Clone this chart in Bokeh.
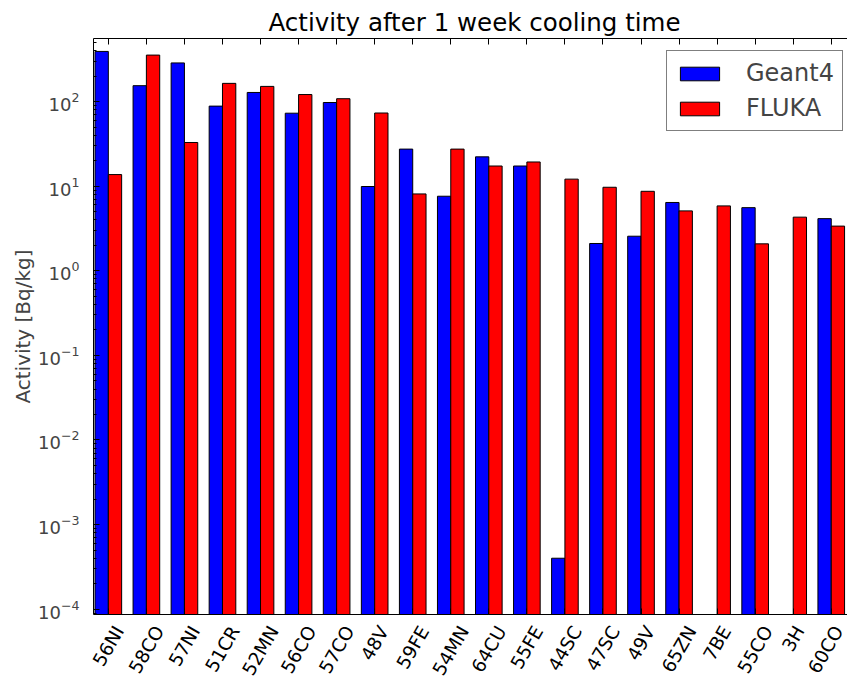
import math
from bokeh.plotting import figure
from bokeh.models import (LinearAxis, FixedTicker, Range1d, Legend, LegendItem,
                          ColumnDataSource)
from bokeh.embed import file_html
from bokeh.resources import INLINE

isotopes = ["56NI", "58CO", "57NI", "51CR", "52MN", "56CO", "57CO", "48V", "59FE", "54MN",
            "64CU", "55FE", "44SC", "47SC", "49V", "65ZN", "7BE", "55CO", "3H", "60CO"]
geant4 = [391, 154, 286, 88.3, 128, 72.8, 97.4, 9.9, 27.4, 7.6,
          22.2, 17.3, 4.0e-4, 2.1, 2.56, 6.41, 0, 5.57, 0, 4.13]
fluka = [13.7, 354, 32.8, 164, 151, 121, 108, 73.2, 8.09, 27.4,
         17.3, 19.3, 12.1, 9.7, 8.69, 5.1, 5.84, 2.08, 4.3, 3.37]
y_major = [1e-4, 1e-3, 1e-2, 1e-1, 1e0, 1e1, 1e2]

W = 0.35
FONT = "DejaVu Sans"
XFS = 18.5        # x tick label font size (px)
ANG = math.pi / 3
X0, X1 = -0.04, 19.777
FRAME_W = 847 - 93

# approximate DejaVu Sans advance widths (em), used to centre the rotated labels on the ticks
ADV = {"0": .636, "1": .636, "2": .636, "3": .636, "4": .636, "5": .636, "6": .636,
       "7": .636, "8": .636, "9": .636, "B": .686, "C": .698, "E": .632, "F": .575,
       "H": .752, "I": .295, "M": .863, "N": .748, "O": .787, "R": .695, "S": .635,
       "U": .732, "V": .684, "Z": .685}

g_idx = [i for i, v in enumerate(geant4) if v > 0]
f_idx = [i for i, v in enumerate(fluka) if v > 0]
src_g = ColumnDataSource(dict(x=[i + W / 2 for i in g_idx], top=[geant4[i] for i in g_idx]))
src_f = ColumnDataSource(dict(x=[i + 1.5 * W for i in f_idx], top=[fluka[i] for i in f_idx]))

p = figure(width=847, height=687, output_backend="svg", toolbar_location=None,
           y_axis_type="log", x_range=Range1d(X0, X1),
           y_range=Range1d(8.65e-5, 556),
           min_border_left=93, min_border_right=0, min_border_top=38, min_border_bottom=59)

p.title.text = "Activity after 1 week cooling time"
p.title.align = "left"
p.title.offset = 175
p.title.text_font = FONT
p.title.text_font_size = "24.5px"
p.title.text_font_style = "normal"
p.title.text_color = "black"
p.title.standoff = 4

p.xgrid.visible = False
p.ygrid.visible = False
p.outline_line_color = None
p.background_fill_color = "white"
p.border_fill_color = "white"

rb = p.vbar(x="x", top="top", bottom=1e-6, width=W, source=src_g,
            fill_color="#0000ff", line_color="black", line_width=1)
rr = p.vbar(x="x", top="top", bottom=1e-6, width=W, source=src_f,
            fill_color="#ff0000", line_color="black", line_width=1)

# x axis: tick marks on the group centres
xt = [i + W for i in range(len(isotopes))]
xa = p.xaxis[0]
xa.ticker = FixedTicker(ticks=xt)
xa.major_label_overrides = {t: "" for t in xt}
xa.major_label_text_font_size = "0px"
xa.major_label_standoff = 0
xa.major_tick_in = 6
xa.major_tick_out = 0
xa.minor_tick_line_color = None
xa.axis_line_color = "black"
xa.axis_line_width = 1

# second bottom axis carrying the rotated names, shifted so each label is centred on its tick
px_per_unit = FRAME_W / (X1 - X0)
def shifted(t, name):
    w = sum(ADV.get(c, .65) for c in name) * XFS
    return round(t + 0.25 * w / px_per_unit, 4)

lt = [shifted(t, n) for t, n in zip(xt, isotopes)]
lab_axis = LinearAxis(ticker=FixedTicker(ticks=lt),
                      major_label_overrides={t: n for t, n in zip(lt, isotopes)},
                      major_label_orientation=ANG, major_label_text_font=FONT,
                      major_label_text_font_size=f"{XFS}px", major_label_text_color="black",
                      major_label_standoff=7, axis_line_color=None,
                      major_tick_line_color=None, minor_tick_line_color=None)
p.add_layout(lab_axis, "below")

top_axis = LinearAxis(ticker=FixedTicker(ticks=xt), major_label_text_font_size="0px",
                      major_label_overrides={t: "" for t in xt},
                      major_tick_in=6, major_tick_out=0, minor_tick_line_color=None,
                      major_label_standoff=0)
p.add_layout(top_axis, "above")

# y axis
minor = [m * 10.0 ** k for k in range(-5, 3) for m in range(2, 10)]
ya = p.yaxis[0]
ya.ticker = FixedTicker(ticks=y_major, minor_ticks=minor)
ya.major_tick_in = 6
ya.major_tick_out = 0
ya.minor_tick_in = 3
ya.minor_tick_out = 0
ya.major_label_text_font = FONT
ya.major_label_text_font_size = "18px"
ya.major_label_standoff = 14
ya.axis_label = "Activity [Bq/kg]"
ya.axis_label_text_font = FONT
ya.axis_label_text_font_size = "20px"
ya.axis_label_text_font_style = "normal"
ya.axis_label_standoff = 0

legend = Legend(items=[LegendItem(label="Geant4", renderers=[rb]),
                       LegendItem(label="FLUKA", renderers=[rr])],
                location=(573, 483))
legend.label_text_font = FONT
legend.label_text_font_size = "24px"
legend.glyph_width = 49
legend.glyph_height = 17
legend.label_standoff = 22
legend.padding = 8
legend.spacing = 7
legend.margin = 0
legend.border_line_color = "black"
legend.border_line_width = 1
legend.background_fill_alpha = 1
p.add_layout(legend)

open("out.html", "w").write(file_html(p, INLINE))
